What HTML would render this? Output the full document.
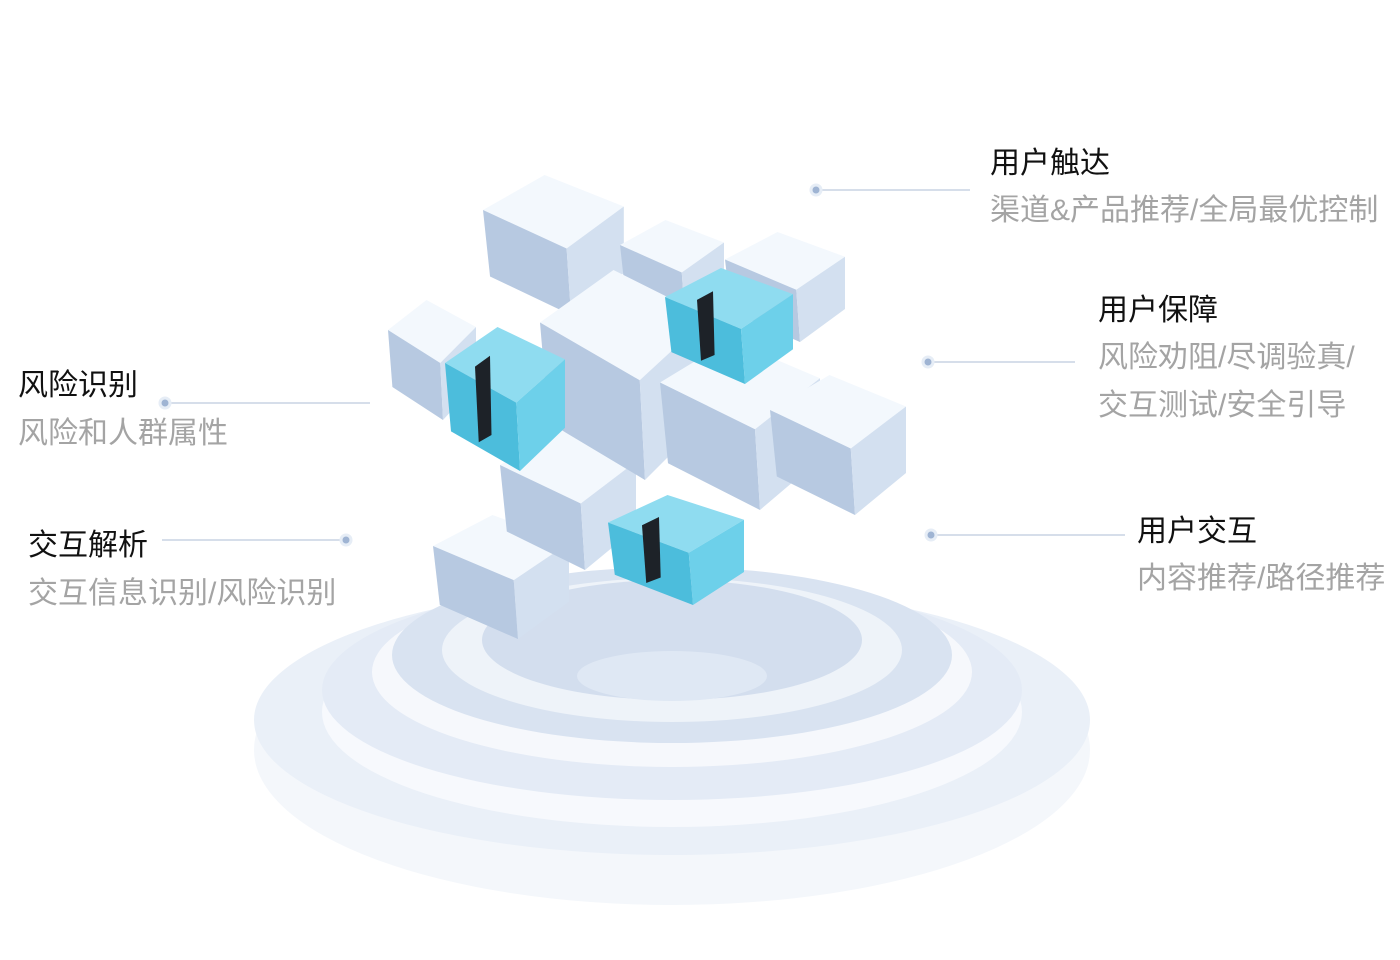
<!DOCTYPE html>
<html><head><meta charset="utf-8"><style>
html,body{margin:0;padding:0;background:#fff;}
body{width:1400px;height:960px;position:relative;overflow:hidden;font-family:"Liberation Sans","Noto Sans CJK SC",sans-serif;}
.t{position:absolute;font-size:30px;color:#111;white-space:nowrap;line-height:1;}
.s{position:absolute;font-size:30px;color:#a4a4a4;white-space:nowrap;line-height:1;}
svg{position:absolute;left:0;top:0;}
</style></head><body>
<svg width="1400" height="960" viewBox="0 0 1400 960">
<defs>
<g id="c">
<polygon points="0,50 70,0 160,45 95,105" fill="#f3f8fd"/>
<polygon points="0,50 95,105 100,200 8,145" fill="#b7c9e1"/>
<polygon points="95,105 160,45 160,140 100,200" fill="#d3e0f0"/>
</g>
<g id="b">
<polygon points="0,50 70,0 160,45 95,105" fill="#8fdcf0"/>
<polygon points="0,50 95,105 100,200 8,145" fill="#4cbddc"/>
<polygon points="95,105 160,45 160,140 100,200" fill="#6dd0ea"/>
<polygon points="40,55 60,40 62,150 45,160" fill="#1d2228"/>
</g>
</defs>
<!-- rings -->
<ellipse cx="672" cy="750" rx="418" ry="155" fill="#f4f7fb"/>
<ellipse cx="672" cy="720" rx="418" ry="135" fill="#eaf0f8"/>
<ellipse cx="672" cy="712" rx="350" ry="115" fill="#f7f9fd"/>
<ellipse cx="672" cy="690" rx="350" ry="110" fill="#e4ebf6"/>
<ellipse cx="672" cy="672" rx="300" ry="95" fill="#f6f8fc"/>
<ellipse cx="672" cy="655" rx="280" ry="88" fill="#d9e3f1"/>
<ellipse cx="672" cy="650" rx="230" ry="72" fill="#eef3f9"/>
<ellipse cx="672" cy="640" rx="190" ry="60" fill="#d3deee"/>
<ellipse cx="672" cy="676" rx="95" ry="25" fill="#dfe8f4"/>
<!-- cubes back to front -->
<use href="#c" transform="translate(483,175) scale(0.88,0.7)"/>
<use href="#c" transform="translate(620,220) scale(0.65,0.5)"/>
<use href="#c" transform="translate(725,232) scale(0.75,0.55)"/>
<use href="#c" transform="translate(388,300) scale(0.55,0.6)"/>
<use href="#c" transform="translate(433,515) scale(0.85,0.62)"/>
<use href="#c" transform="translate(500,430) scale(0.85,0.7)"/>
<use href="#c" transform="translate(540,270) scale(1.05,1.05)"/>
<use href="#c" transform="translate(660,340) scale(1.0,0.85)"/>
<use href="#c" transform="translate(770,375) scale(0.85,0.7)"/>
<use href="#b" transform="translate(445,327) scale(0.75,0.72)"/>
<use href="#b" transform="translate(665,268) scale(0.8,0.58)"/>
<use href="#b" transform="translate(608,495) scale(0.85,0.55)"/>
<!-- connectors -->
<g stroke="#c9d4e4" stroke-width="1.5">
<line x1="816" y1="190" x2="970" y2="190"/>
<line x1="928" y1="362" x2="1075" y2="362"/>
<line x1="165" y1="403" x2="370" y2="403"/>
<line x1="162" y1="540" x2="346" y2="540"/>
<line x1="931" y1="535" x2="1125" y2="535"/>
</g>
<g fill="#9fb4d3" stroke="#e6edf6" stroke-width="3">
<circle cx="816" cy="190" r="5"/><circle cx="928" cy="362" r="5"/>
<circle cx="165" cy="403" r="5"/><circle cx="346" cy="540" r="5"/>
<circle cx="931" cy="535" r="5"/>
</g>
</svg>
<div class="t" style="left:990px;top:149px">用户触达</div>
<div class="s" style="left:990px;top:196px">渠道&amp;产品推荐/全局最优控制</div>
<div class="t" style="left:1098px;top:296px">用户保障</div>
<div class="s" style="left:1098px;top:343px">风险劝阻/尽调验真/</div>
<div class="s" style="left:1098px;top:391px">交互测试/安全引导</div>
<div class="t" style="left:18px;top:371px">风险识别</div>
<div class="s" style="left:18px;top:419px">风险和人群属性</div>
<div class="t" style="left:28px;top:531px">交互解析</div>
<div class="s" style="left:28px;top:579px">交互信息识别/风险识别</div>
<div class="t" style="left:1137px;top:517px">用户交互</div>
<div class="s" style="left:1137px;top:564px">内容推荐/路径推荐</div>
</body></html>
